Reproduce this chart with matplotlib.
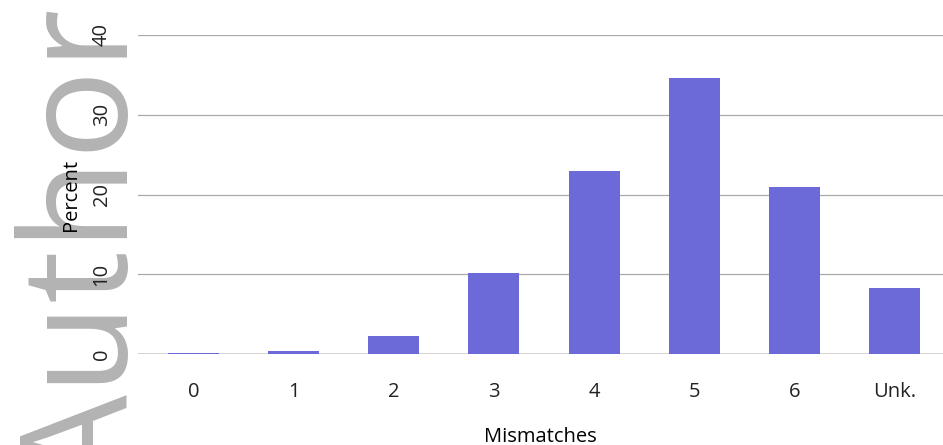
import matplotlib
matplotlib.use("Agg")
import matplotlib.pyplot as plt

categories = ["0", "1", "2", "3", "4", "5", "6", "Unk."]
percent = [0.1, 0.4, 2.3, 10.1, 23.0, 34.6, 20.9, 8.3]
yticks = [0, 10, 20, 30, 40]

plt.rcParams['font.family'] = ['Open Sans', 'DejaVu Sans']

W, H = 943, 445
FS = 14.5
fig = plt.figure(figsize=(W / 100, H / 100), dpi=100)

# watermark
fig.text(128 / W, 1 - 9 / H, "Author", rotation=90, rotation_mode='anchor',
         ha='right', va='baseline', fontsize=107, color='#b3b3b3', zorder=-5)

ax = fig.add_axes([138 / W, 1 - 354 / H, (943 - 138) / W, (354 - 35) / H])
ax.set_facecolor('none')
x = list(range(len(categories)))
ax.bar(x, percent, width=0.51, color='#6c6ad8', zorder=3)
ax.set_xlim(-0.554, 7.484)
ax.set_ylim(0, 40)
ax.set_yticks(yticks)
ax.set_yticklabels([str(v) for v in yticks], rotation=90, va='center', fontsize=FS)
ax.set_xticks(x)
ax.set_xticklabels(categories, fontsize=FS)
ax.tick_params(axis='both', length=0, colors='#222222')
ax.tick_params(axis='y', pad=19)
ax.tick_params(axis='x', pad=20)
for s in ax.spines.values():
    s.set_visible(False)
for v in yticks[1:]:
    ax.axhline(v, color='#aaaaaa', lw=0.9, zorder=1)
ax.axhline(0, color='#cccccc', lw=1.2, zorder=2)
ax.set_ylabel("Percent", fontsize=FS, labelpad=8)
ax.set_xlabel("Mismatches", fontsize=FS, labelpad=18)

fig.savefig("out.png", dpi=100)
